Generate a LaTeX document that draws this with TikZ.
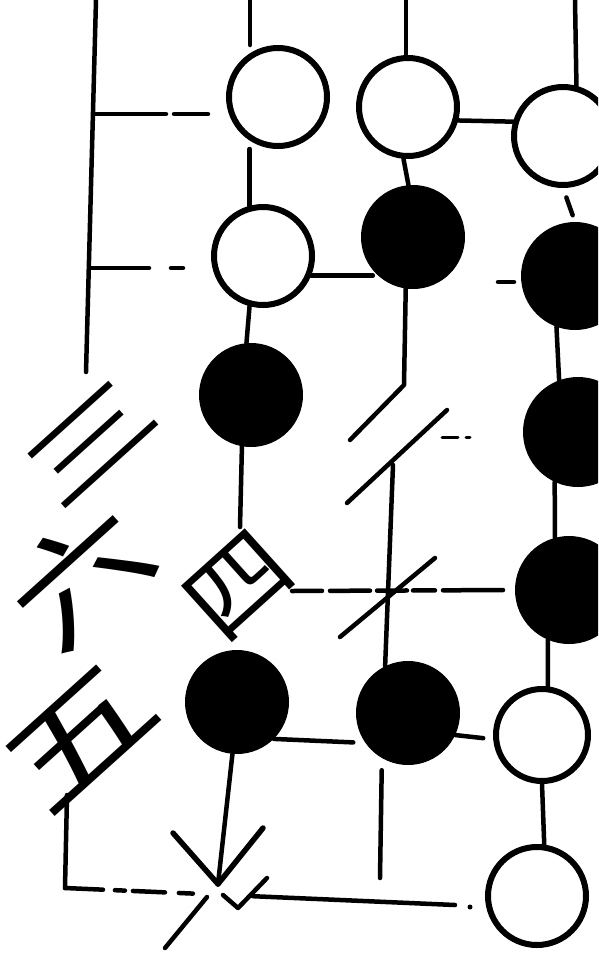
\documentclass[tikz,border=0pt]{standalone}
\usepackage{fontspec}
\usepackage{graphicx}
\newfontfamily\cjk{Noto Sans CJK SC}
\begin{document}
\begin{tikzpicture}[x=1pt,y=-1pt,
  ln/.style={line width=4.5pt,line cap=round,line join=round},
  wst/.style={circle,draw,line width=6pt,minimum size=98pt,inner sep=0pt,fill=white},
  bst/.style={circle,fill=black,minimum size=104pt,inner sep=0pt},
  num/.style={inner sep=0pt,rotate=42}]
\clip (0,0) rectangle (598,962);
\fill[white] (0,0) rectangle (598,962);
% circles
\node[wst] (c1) at (278,97) {};
\node[wst] (c2) at (408,107) {};
\node[wst] (c3) at (563,136) {};
\node[wst] (c4) at (263,256) {};
\node[bst] (c5) at (413,237) {};
\node[bst,minimum size=108pt] (c6) at (575,276) {};
\node[bst] (c10) at (251,395) {};
\node[bst,minimum size=110pt] (c7) at (578,432) {};
\node[bst,minimum size=108pt] (c8) at (569,590) {};
\node[bst] (c11) at (237,702) {};
\node[bst] (c9) at (408,713) {};
\node[wst,minimum size=92pt] (c12) at (542,735) {};
\node[wst] (c13) at (537,896) {};
% characters
\node[num] (san) at (90,442) {\scalebox{1.8}[1.1]{\cjk\fontsize{80pt}{80pt}\selectfont 三}};
\node[num] (liu) at (80,575) {\scalebox{1.45}[1.15]{\cjk\fontsize{100pt}{100pt}\selectfont 六}};
\node[num] (wu) at (80,737) {\scalebox{1.9}[1.3]{\cjk\fontsize{85pt}{85pt}\selectfont 五}};
\node[num] (si) at (239,586) {\scalebox{1.1}[1.0]{\cjk\fontsize{95pt}{95pt}\selectfont 四}};
% free ends
\coordinate (L0) at (96,0);
\coordinate (L1) at (86,372);
\coordinate (h1) at (94,114);
\coordinate (h2) at (91,268);
\coordinate (t1) at (250,0);
\coordinate (t2) at (406,0);
\coordinate (t3) at (575,0);
\coordinate (siTop) at (240,527);
\coordinate (sit) at (292,591);
\coordinate (b1) at (404,385);
\coordinate (b2) at (350,440);
\coordinate (d1a) at (447,410);
\coordinate (d1b) at (347,503);
\coordinate (vtop) at (393,465);
\coordinate (d2a) at (435,558);
\coordinate (d2b) at (340,637);
\coordinate (tip) at (218,884);
\coordinate (bl) at (65,888);
\coordinate (br) at (455,905);
\coordinate (wuB) at (67,795);
\coordinate (c9b) at (380,878);
% connectors
\draw[ln] (L0) -- (L1);
\draw[ln,dash pattern=on 72pt off 8pt on 34pt off 100pt,shorten >=17pt] (h1) -- (h1 -| c1.west);
\draw[ln,dash pattern=on 58pt off 22pt on 12pt off 100pt,shorten >=25pt] (h2) -- (h2 -| c4.west);
\draw[ln] (t1) -- (t1 |- c1.north);
\draw[ln] (t2) -- (t2 |- c2.north);
\draw[ln] (t3) -- (c3.75);
\draw[ln] (c4.105) -- (c4.105 |- c1.south);
\draw[ln] (c2.265) -- (c5.95);
\draw[ln] (c2.345) -- (c3.164);
\draw[ln,shorten >=-12pt] (c4.338) -- (c4.338 -| c5.west);
\draw[ln,shorten <=10pt,shorten >=7pt] (c3.south) -- (c6.north);
\draw[ln] (498,282) -- (514,282);
\draw[ln] (c6.250) -- (c7.110);
\draw[ln] (c7.245) -- (c8.105);
\draw[ln] (c8.247) -- (c12.83);
\draw[ln] (c12.south) -- (c13.82);
\draw[ln] (c4.255) -- (c10.95);
\draw[ln] (c10.260) -- (siTop);
\draw[ln,dash pattern=on 30pt off 8pt on 40pt off 7pt on 30pt off 6pt on 22pt off 8pt on 60pt] (sit) -- (c8.west);
\draw[ln] (c5.262) -- (b1) -- (b2);
\draw[ln] (d1a) -- (d1b);
\draw[ln] (vtop) -- (c9.116);
\draw[ln] (d2a) -- (d2b);
\draw[ln,line width=3pt] (442,437) -- (458,437) (466,437) -- (470,437);
\draw[ln,shorten >=12pt] (c11.315) -- (c9.215);
\draw[ln,shorten >=10pt] (c9.335) -- (c12.185);
\draw[ln,shorten <=12pt] (c9.240) -- (c9b);
\draw[ln] (c11.265) -- (tip);
\draw[ln,line width=5.5pt] (tip) -- ++(-45,-51);
\draw[ln,line width=5.5pt] (tip) -- ++(45,-56);
\draw[ln] (wuB) -- (bl);
\draw[ln,dash pattern=on 38pt off 12pt on 10pt off 8pt on 32pt off 14pt on 14pt off 60pt on 300pt] (bl) -- (br);
\fill (470,907) circle (2.5pt);
\draw[ln] (207,897) -- (165,948);
\draw[ln] (223,895) -- (238,908) -- (267,878);
\end{tikzpicture}
\end{document}
